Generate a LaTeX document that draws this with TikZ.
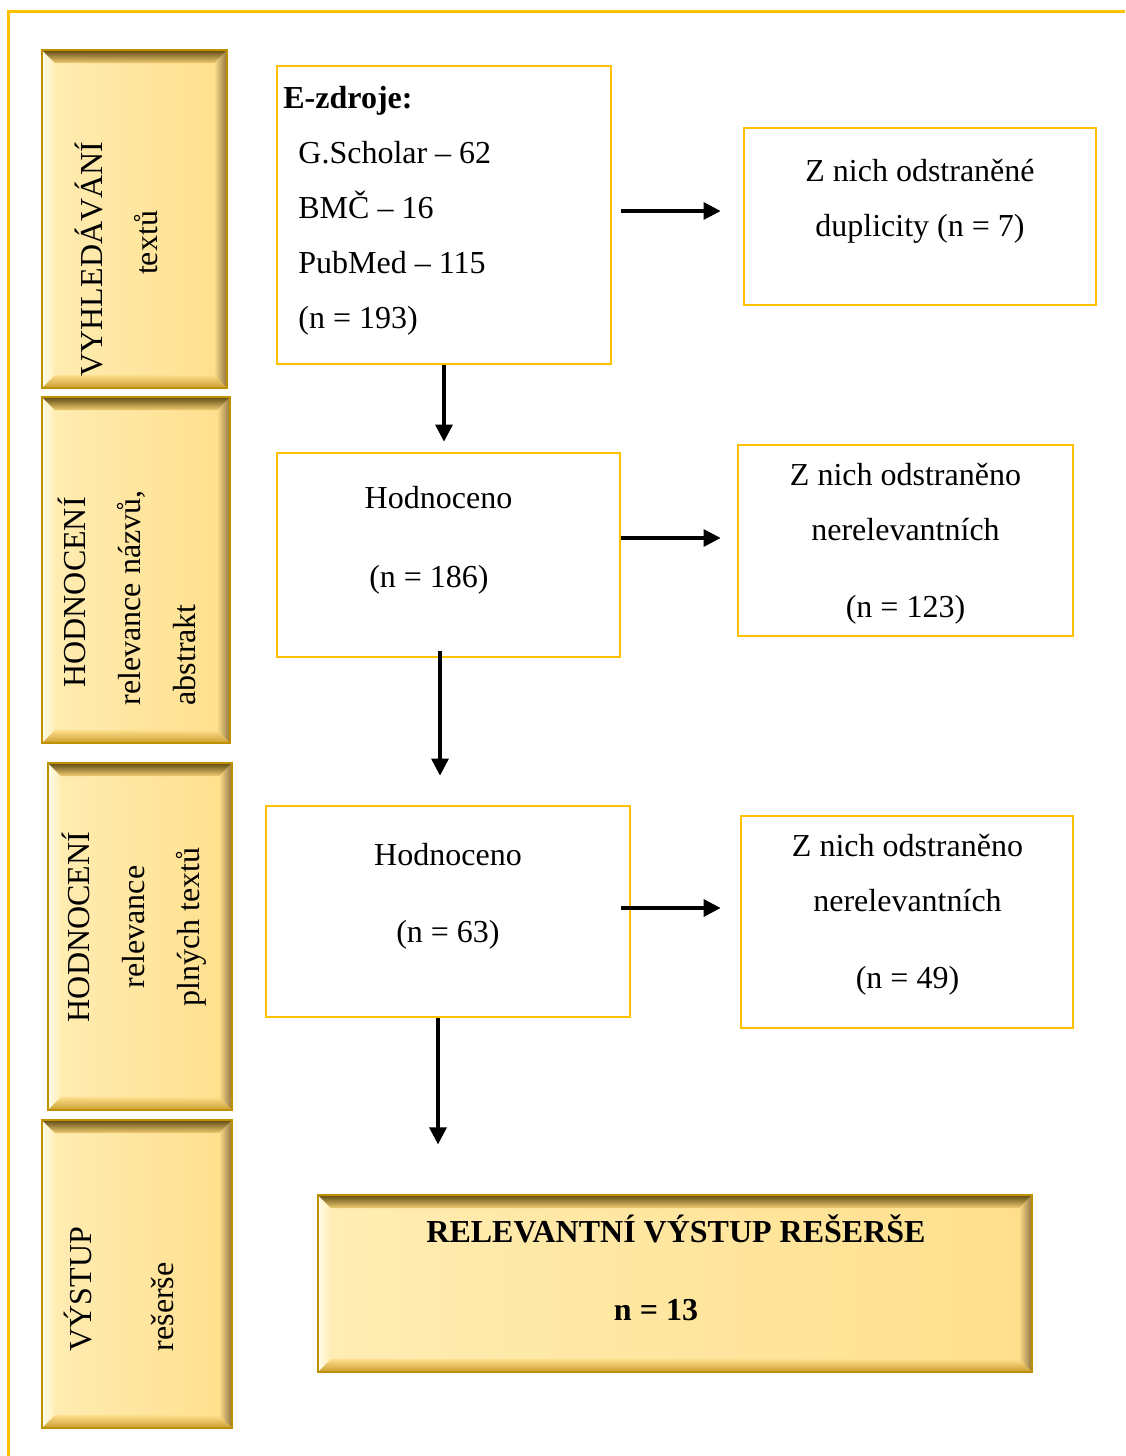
\documentclass[tikz,border=0pt]{standalone}
\usepackage{fontspec}
\setmainfont{Liberation Serif}
\usetikzlibrary{positioning, arrows.meta, calc}
\definecolor{boxframe}{HTML}{FFC000}
\definecolor{goldline}{HTML}{BF9000}
\definecolor{goldlite}{HTML}{FFEDB4}
\definecolor{goldmid}{HTML}{FFDF8C}
\definecolor{goldtopdark}{HTML}{5E4A14}
\definecolor{goldtop}{HTML}{F0CC70}
\definecolor{goldright}{HTML}{8F7640}
\definecolor{goldbottom}{HTML}{C99C2E}
\definecolor{goldleft}{HTML}{FFFDEA}
\newcommand{\boxfont}{\fontsize{16pt}{27.5pt}\selectfont}
\newcommand{\bevw}{6.5pt}
\tikzset{
  panel/.style={
    draw=goldline,
    line width=0.6pt,
    left color=goldlite,
    right color=goldmid,
    path picture={
      \coordinate (bvnw) at (path picture bounding box.north west);
      \coordinate (bvne) at (path picture bounding box.north east);
      \coordinate (bvsw) at (path picture bounding box.south west);
      \coordinate (bvse) at (path picture bounding box.south east);
      \shade[left color=goldleft, right color=goldlite] (bvnw) -- (bvsw) -- ([shift={(\bevw,\bevw)}]bvsw) -- ([shift={(\bevw,-\bevw)}]bvnw) -- cycle;
      \shade[left color=goldmid, right color=goldright] (bvne) -- (bvse) -- ([shift={(-\bevw,\bevw)}]bvse) -- ([shift={(-\bevw,-\bevw)}]bvne) -- cycle;
      \shade[top color=goldtopdark, bottom color=goldtop] (bvnw) -- (bvne) -- ([shift={(-\bevw,-\bevw)}]bvne) -- ([shift={(\bevw,-\bevw)}]bvnw) -- cycle;
      \shade[top color=goldmid, bottom color=goldbottom] (bvsw) -- (bvse) -- ([shift={(-\bevw,\bevw)}]bvse) -- ([shift={(\bevw,\bevw)}]bvsw) -- cycle;
    }
  },
  flow/.style={draw=boxframe, fill=white, line width=1.4pt},
  txt/.style={font=\boxfont, align=center, inner sep=0pt},
  sidetxt/.style={txt, rotate=90},
  arr/.style={->, line width=1.6pt},
  frameline/.style={draw=boxframe, line width=1.5pt}
}

\begin{document}
\begin{tikzpicture}[
    x=0.5pt, y=0.5pt,
    >={Triangle[length=8.5pt, width=8.5pt]}
  ]
  \useasboundingbox (0,0) rectangle (1125,-1456);

  % outer frame
  \draw[frameline] (1125,-11) -- (8,-11) -- (8,-1456);

  % stage panels on the left
  \node[panel, minimum width=92.5pt, minimum height=169pt] (srchpanel) at (134.5,-219) {};
  \node[panel, minimum width=94pt, minimum height=173pt] (abstpanel) at (136,-570) {};
  \node[panel, minimum width=92pt, minimum height=173.5pt] (fullpanel) at (140,-936.5) {};
  \node[panel, minimum width=95pt, minimum height=154pt] (outpanel) at (137,-1274) {};

  \node[sidetxt] (srchtxt) at (116,-259) {VYHLEDÁVÁNÍ\\\hspace*{16pt}textů};
  \node[sidetxt, align=left] (absttxt) at (126.5,-598) {\hspace*{9pt}HODNOCENÍ\\relevance názvů,\\abstrakt};
  \node[sidetxt] (fulltxt) at (134,-927) {HODNOCENÍ\\relevance\\plných textů};
  \node[sidetxt, align=left] (outtxt) at (119,-1289) {VÝSTUP\\[13.5pt]rešerše};

  % flow boxes
  \node[flow, minimum width=167pt, minimum height=149pt] (sources) at (444,-215) {};
  \node[flow, minimum width=176pt, minimum height=88.5pt] (dupl) at (920,-216.5) {};
  \node[flow, minimum width=171.5pt, minimum height=102pt] (screen1) at (448.5,-555) {};
  \node[flow, minimum width=167.5pt, minimum height=95.5pt] (excl1) at (905.5,-540.5) {};
  \node[flow, minimum width=182pt, minimum height=105.5pt] (screen2) at (448,-911.5) {};
  \node[flow, minimum width=166pt, minimum height=106pt] (excl2) at (907,-922) {};
  \node[panel, minimum width=357pt, minimum height=88.5pt] (result) at (675,-1283.5) {};

  \node[txt, align=left, anchor=west] (sourcestxt) at (283,-210.5) {\textbf{E-zdroje:}\\\hspace*{7.5pt}G.Scholar – 62\\\hspace*{7.5pt}BMČ – 16\\\hspace*{7.5pt}PubMed – 115\\\hspace*{7.5pt}(n = 193)};
  \node[txt] (dupltxt) at (920,-201) {Z nich odstraněné\\duplicity (n = 7)};
  \node[txt] (screen1txt) at (438.5,-540.5) {Hodnoceno\\[12pt](n = 186)\hspace*{9.5pt}};
  \node[txt] (excl1txt) at (905.5,-544) {Z nich odstraněno\\nerelevantních\\[11pt](n = 123)};
  \node[txt] (screen2txt) at (448,-896.5) {Hodnoceno\\[11pt](n = 63)};
  \node[txt] (excl2txt) at (907.5,-915) {Z nich odstraněno\\nerelevantních\\[11pt](n = 49)};
  \node[txt, font=\boxfont\bfseries] (resulttxt) at (676,-1268) {RELEVANTNÍ VÝSTUP REŠERŠE\\[11.5pt]n = 13\hspace*{20pt}};

  % arrows
  \coordinate (srcout) at ([yshift=2pt]sources.east);
  \draw[arr, shorten <=4.5pt, shorten >=11pt] (srcout) -- (srcout -| dupl.west);
  \draw[arr, shorten >=5pt] (sources.south) -- (sources.south |- screen1.north);

  \coordinate (scr1out) at ([yshift=8.5pt]screen1.east);
  \draw[arr, shorten >=8pt] (scr1out) -- (scr1out -| excl1.west);
  \coordinate (scr1down) at ([xshift=-4.25pt]screen1.south);
  \draw[arr, shorten <=-3.5pt, shorten >=14.5pt] (scr1down) -- (scr1down |- screen2.north);

  \coordinate (scr2out) at ([yshift=1.75pt]screen2.east);
  \draw[arr, shorten <=-5pt, shorten >=9.5pt] (scr2out) -- (scr2out -| excl2.west);
  \coordinate (scr2down) at ([xshift=-5pt]screen2.south);
  \draw[arr, shorten >=25pt] (scr2down) -- (scr2down |- result.north);

\end{tikzpicture}
\end{document}
